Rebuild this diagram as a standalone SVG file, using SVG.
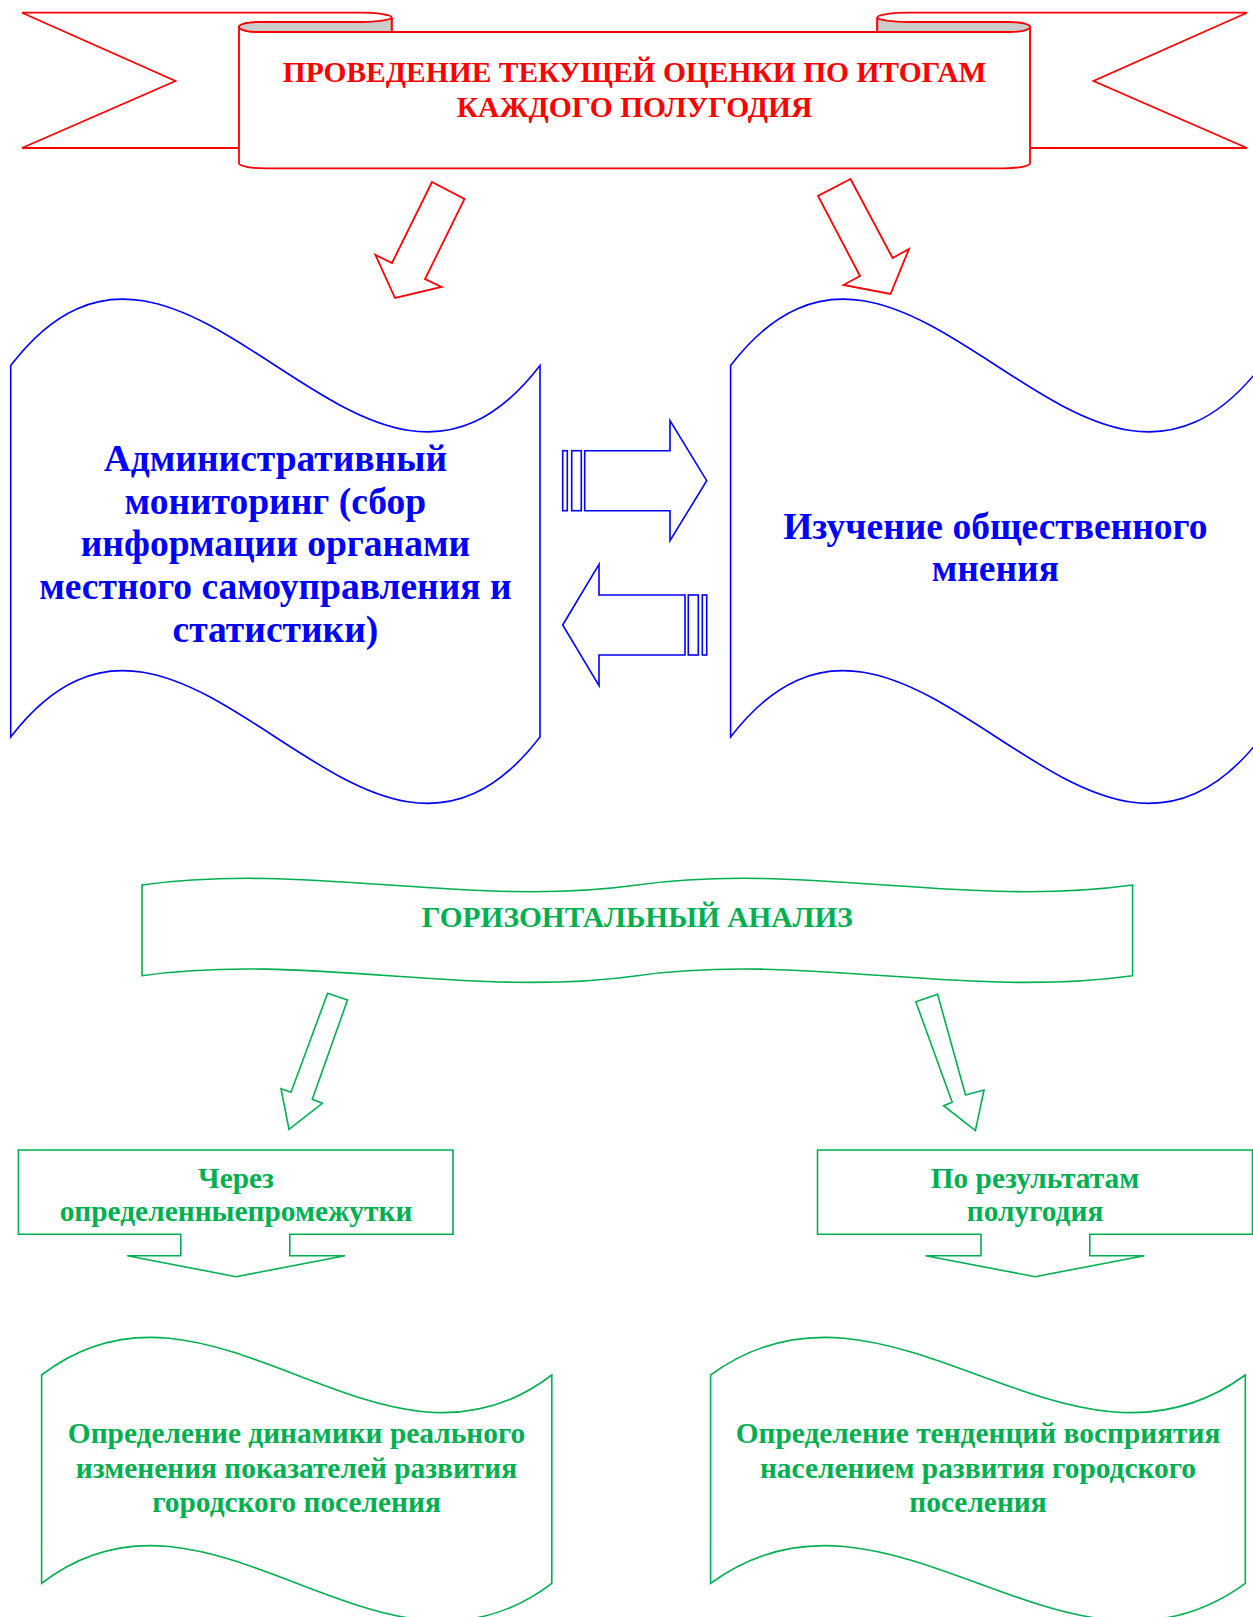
<svg xmlns="http://www.w3.org/2000/svg" width="1253" height="1617" viewBox="0 0 1253 1617">
<style>
.red{fill:#fff;stroke:#FF0000;stroke-width:1.8;stroke-linejoin:miter}
.blue{fill:#fff;stroke:#0000FF;stroke-width:1.6}
.green{fill:#fff;stroke:#00B050;stroke-width:1.6}
.gray{fill:#CCCCCC;stroke:#FF0000;stroke-width:1.8}
text{font-family:"Liberation Serif","Times New Roman",serif;font-weight:bold;text-anchor:middle}
.tr{fill:#FF0000;font-size:29.5px}
.tb{fill:#0000FF;font-size:37.5px}
.tg{fill:#00B050;font-size:29.4px}
</style>
<rect width="1253" height="1617" fill="#fff"/>

<g id="banner">
  <path class="red" d="M239,148 L22,148 L175.5,81 L22,12.7 L360,12.7 A31.7,4.7 0 0 1 391.7,17.4 L391.7,32 L239,32 Z"/>
  <path class="red" d="M1030,148 L1247,148 L1093.5,81 L1247,12.7 L909,12.7 A31.7,4.7 0 0 0 877.3,17.4 L877.3,32 L1030,32 Z"/>
  <path class="red" d="M260,22 A21,5 0 0 0 239,27 L239,163.3 A26,5 0 0 0 265,168.3 L1004,168.3 A26,5 0 0 0 1030,163.3 L1030,27 A21,5 0 0 0 1009,32 L260,32 A21,5 0 0 1 260,22 Z"/>
  <path class="gray" d="M391.7,17.4 L391.7,32 L260,32 A21,5 0 0 1 260,22 L360,22 A31.7,4.7 0 0 0 391.7,17.4 Z"/>
  <path class="gray" d="M877.3,17.4 L877.3,32 L1009,32 A21,5 0 0 0 1009,22 L909,22 A31.7,4.7 0 0 1 877.3,17.4 Z"/>
  <text class="tr" x="634.5" y="82">ПРОВЕДЕНИЕ ТЕКУЩЕЙ ОЦЕНКИ ПО ИТОГАМ</text>
  <text class="tr" x="634.5" y="117">КАЖДОГО ПОЛУГОДИЯ</text>
</g>

<g id="admin-monitoring">
  <path class="blue" d="M10.7,365.5 C187,135.5 363.5,595.5 540,365.5 L540,737 C363.5,967 187,507 10.7,737 Z"/>
  <text class="tb" x="275.4" y="471">Административный</text>
  <text class="tb" x="275.4" y="513.6">мониторинг (сбор</text>
  <text class="tb" x="275.4" y="556.3">информации органами</text>
  <text class="tb" x="275.4" y="599">местного самоуправления и</text>
  <text class="tb" x="275.4" y="641.7">статистики)</text>
</g>

<g id="public-opinion">
  <path class="blue" d="M730.6,365.5 C907.6,135.5 1084.6,595.5 1261.6,365.5 L1261.6,737 C1084.6,967 907.6,507 730.6,737 Z"/>
  <text class="tb" x="995.3" y="538.6">Изучение общественного</text>
  <text class="tb" x="995.3" y="580.9">мнения</text>
</g>

<g id="horizontal-analysis">
  <path class="green" d="M142,885 C307,861.8 472,908.2 637.3,885 C802.3,861.8 967.3,908.2 1132.6,885 L1132.6,975.7 C967.3,998.9 802.3,952.5 637.3,975.7 C472,998.9 307,952.5 142,975.7 Z"/>
  <text class="tg" x="637.3" y="926.7">ГОРИЗОНТАЛЬНЫЙ АНАЛИЗ</text>
</g>

<g id="through-intervals">
  <path class="green" d="M18.4,1150 L453,1150 L453,1234.3 L289.8,1234.3 L289.8,1255.7 L345,1255.7 L236,1276.7 L127.3,1255.7 L180.8,1255.7 L180.8,1234.3 L18.4,1234.3 Z"/>
  <text class="tg" x="236" y="1188">Через</text>
  <text class="tg" x="236" y="1220.7">определенныепромежутки</text>
</g>

<g id="by-half-year">
  <path class="green" d="M817.5,1150 L1252.5,1150 L1252.5,1234.3 L1089.8,1234.3 L1089.8,1255.7 L1144.4,1255.7 L1035,1276.7 L925.7,1255.7 L981,1255.7 L981,1234.3 L817.5,1234.3 Z"/>
  <text class="tg" x="1035" y="1188">По результатам</text>
  <text class="tg" x="1035" y="1220.7">полугодия</text>
</g>

<g id="dynamics">
  <path class="green" d="M41.6,1375 C211.6,1244.4 381.6,1505.6 551.8,1375 L551.8,1583.3 C381.6,1713.9 211.6,1452.7 41.6,1583.3 Z"/>
  <text class="tg" x="296.5" y="1443.3">Определение динамики реального</text>
  <text class="tg" x="296.5" y="1477.6">изменения показателей развития</text>
  <text class="tg" x="296.5" y="1511.7">городского поселения</text>
</g>

<g id="tendencies">
  <path class="green" d="M710.6,1375 C888.8,1244.4 1067,1505.6 1245.3,1375 L1245.3,1583.3 C1067,1713.9 888.8,1452.7 710.6,1583.3 Z"/>
  <text class="tg" x="978" y="1443.3">Определение тенденций восприятия</text>
  <text class="tg" x="978" y="1477.6">населением развития городского</text>
  <text class="tg" x="978" y="1511.7">поселения</text>
</g>

<g id="connectors">
  <polygon class="red" points="432,182 464.5,199 425,279 441.6,287 395,298 375.5,255 392,263"/>
  <polygon class="red" points="850.5,179 818,196 860,276 843.6,285 890.5,294 909,249 892.6,258"/>
  <rect class="blue" x="562.7" y="450.7" width="4.6" height="60"/>
  <rect class="blue" x="571.7" y="450.7" width="9.6" height="60"/>
  <path class="blue" d="M584.7,450.7 L670,450.7 L670,420.7 L706.7,480.7 L670,540.7 L670,510.7 L584.7,510.7 Z"/>
  <path class="blue" d="M562.7,625 L599,564.3 L599,595 L685,595 L685,655 L599,655 L599,685.7 Z"/>
  <rect class="blue" x="688.3" y="595" width="10" height="60"/>
  <rect class="blue" x="702.3" y="595" width="4.4" height="60"/>
  <polygon class="green" points="327.6,993.3 347.5,1000 312.3,1099.3 322.3,1103.3 289,1129.3 281,1088.7 291,1092.3"/>
  <polygon class="green" points="915.8,1001.7 937.6,994.3 965.5,1095 984,1090 975.4,1130.7 943.6,1105.7 952.2,1102.3"/>
</g>
</svg>
